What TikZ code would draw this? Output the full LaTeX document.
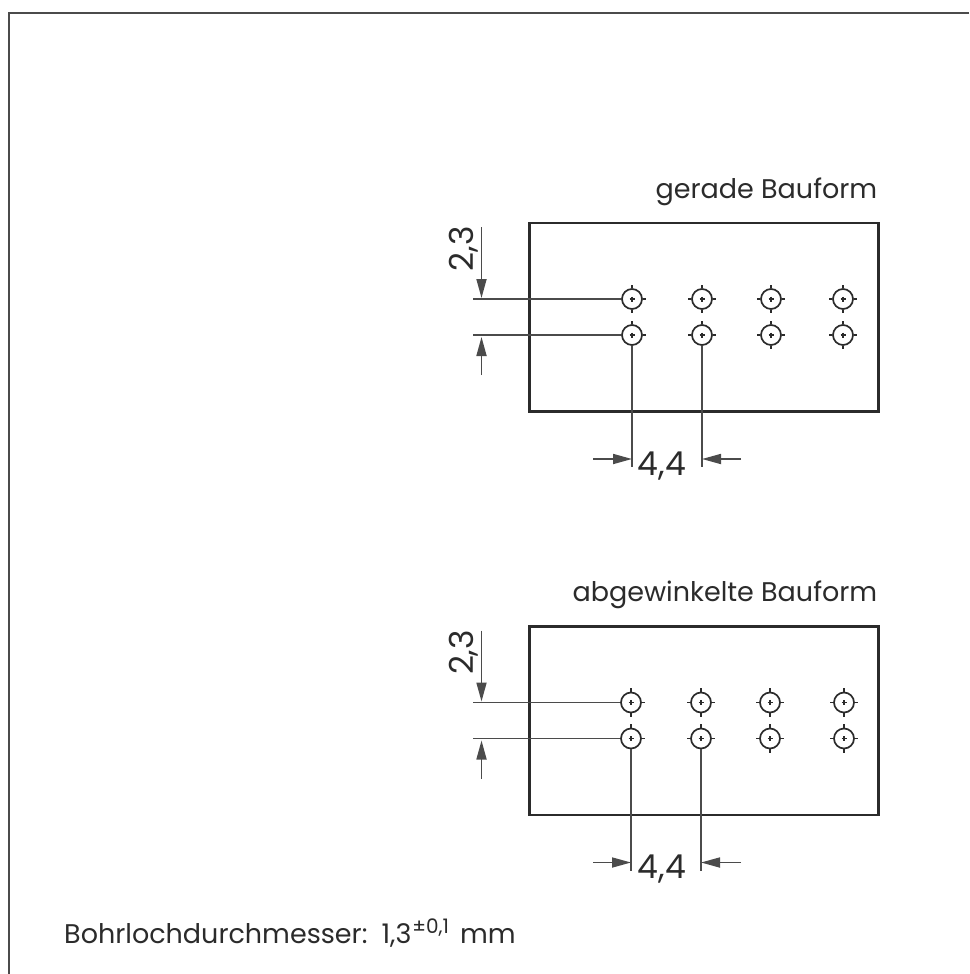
\documentclass[tikz,border=0pt]{standalone}
\usepackage{fontspec}
\setmainfont{Poppins}
\usetikzlibrary{arrows.meta}
\definecolor{ink}{gray}{0.17}
\tikzset{
  x=1pt,y=-1pt,
  outline/.style={draw=ink,line width=2.6pt},
  frameline/.style={draw=ink!85,line width=2pt},
  thin line/.style={draw=ink!85,line width=1.7pt},
  dimarrow/.style={thin line,-{Triangle[length=19pt,width=10pt]}},
  holemark/.style={circle,draw=ink,line width=1.7pt,minimum size=20pt,inner sep=0pt},
  title/.style={text=ink,font=\fontsize{27}{30}\selectfont,inner sep=0pt},
  dimtext/.style={text=ink,font=\fontsize{33}{36}\selectfont,inner sep=0pt},
}
\newcommand{\holeat}[3]{%
  \node[holemark] (#1) at (#2,#3) {};
  \draw[draw=ink,line width=1.2pt] (#1.north) -- +(0,-3.5) (#1.south) -- +(0,3.5) (#1.east) -- +(3.5,0) (#1.west) -- +(-3.5,0);
  \draw[draw=ink,line width=1.2pt] (#1.center) ++(-2.5,0) -- ++(5,0) (#1.center) ++(0,-2.5) -- ++(0,5);
}
% #1 prefix, #2 y offset, #3 title, #4 x of column 1, #5 col 2, #6 col 3, #7 col 4
\newcommand{\block}[7]{%
  \begin{scope}[yshift=-#2pt]
    \node[outline,rectangle,minimum width=349pt,minimum height=188.5pt,inner sep=0pt,outer sep=0pt,anchor=north west] (#1box) at (529.5,223) {};
    \node[title,anchor=base east] (#1title) at (877.5,198) {#3};
    \holeat{#1a}{#4}{299}\holeat{#1b}{#5}{299}\holeat{#1c}{#6}{299}\holeat{#1d}{#7}{299}
    \holeat{#1e}{#4}{335}\holeat{#1f}{#5}{335}\holeat{#1g}{#6}{335}\holeat{#1h}{#7}{335}
    \coordinate (#1u) at (473,299);
    \coordinate (#1l) at (473,335);
    \coordinate (#1ut) at (481.5,227);
    \coordinate (#1ub) at (481.5,298);
    \coordinate (#1lt) at (481.5,337);
    \coordinate (#1lb) at (481.5,375);
    \coordinate (#1p) at (#4,467);
    \coordinate (#1q) at (#5,467);
    \coordinate (#1pa) at (593,459);
    \coordinate (#1pb) at (#4,459);
    \coordinate (#1qa) at (741,459);
    \coordinate (#1qb) at (#5,459);
    \draw[thin line] (#1u) -- (#1a.west);
    \draw[thin line] (#1l) -- (#1e.west);
    \draw[thin line] (#1e.south) -- (#1p);
    \draw[thin line] (#1f.south) -- (#1q);
    \draw[dimarrow] (#1ut) -- (#1ub);
    \draw[dimarrow] (#1lb) -- (#1lt);
    \draw[dimarrow] (#1pa) -- (#1pb);
    \draw[dimarrow] (#1qa) -- (#1qb);
    \node[dimtext,rotate=90,anchor=base] (#1v) at (473,249) {2,3};
    \node[dimtext,anchor=base] (#1h4) at (662,475) {4,4};
  \end{scope}
}
\begin{document}
\begin{tikzpicture}
  \useasboundingbox (0,0) rectangle (969,974);
  \fill[white] (0,0) rectangle (969,974);
  \coordinate (fa) at (969,13);
  \coordinate (fb) at (9,13);
  \coordinate (fc) at (9,974);
  \draw[frameline] (fa) -- (fb) -- (fc);
  \block{s}{0}{gerade Bauform}{632}{702}{771}{843}
  \block{w}{403.5}{abgewinkelte Bauform}{631}{701}{770}{844}
  \node[title,anchor=base west] (note) at (64,943) {Bohrlochdurchmesser:\hspace{14pt}1,3\raisebox{10pt}{\fontsize{20}{20}\selectfont\hspace{1pt}±0,1}\hspace{11pt}mm};
\end{tikzpicture}
\end{document}
